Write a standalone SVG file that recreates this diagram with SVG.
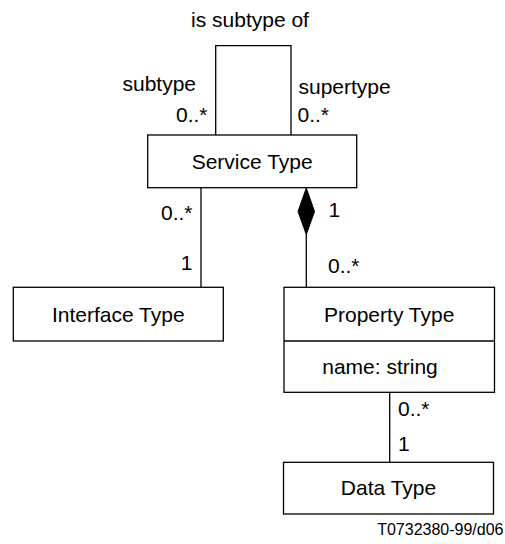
<svg xmlns="http://www.w3.org/2000/svg" width="505" height="544" viewBox="0 0 505 544">
  <style>
    .box { fill: #fff; stroke: #000; stroke-width: 1.3; }
    .ln { fill: none; stroke: #000; stroke-width: 1.3; }
    text { font-family: "Liberation Sans", Arial, sans-serif; font-size: 21px; fill: #000; }
    .c { text-anchor: middle; }
    .note { font-size: 16px; text-anchor: end; }
  </style>

  <g id="connectors">
    <!-- self-association on Service Type -->
    <polyline class="ln" points="215.7,135 215.7,45.7 291,45.7 291,135"/>
    <text class="c" x="250" y="27">is subtype of</text>
    <text x="122.5" y="91">subtype</text>
    <text x="207.5" y="122" text-anchor="end">0..*</text>
    <text x="298.5" y="94">supertype</text>
    <text x="297.5" y="122">0..*</text>

    <!-- Service Type to Interface Type -->
    <line class="ln" x1="201" y1="187.7" x2="201" y2="287.3"/>
    <text x="192.5" y="219.5" text-anchor="end">0..*</text>
    <text x="192.5" y="269.5" text-anchor="end">1</text>

    <!-- composition: Service Type owns Property Type -->
    <polygon points="306.3,188 314.5,211.5 306.3,234.5 298,211.5" fill="#000" stroke="#000" stroke-width="1"/>
    <line class="ln" x1="306.3" y1="234" x2="306.3" y2="287.3"/>
    <text x="328.5" y="217">1</text>
    <text x="328" y="273">0..*</text>

    <!-- Property Type to Data Type -->
    <line class="ln" x1="389.7" y1="392.3" x2="389.7" y2="462.3" stroke-width="2.2"/>
    <text x="398" y="416">0..*</text>
    <text x="398" y="451">1</text>
  </g>

  <g id="service-type">
    <rect class="box" x="147.7" y="135" width="209" height="52.7"/>
    <text class="c" x="252.2" y="168.5">Service Type</text>
  </g>

  <g id="interface-type">
    <rect class="box" x="13.3" y="287.3" width="210" height="53.7"/>
    <text class="c" x="118.3" y="322">Interface Type</text>
  </g>

  <g id="property-type">
    <rect class="box" x="284" y="287.3" width="210.5" height="105"/>
    <line class="ln" x1="284" y1="341" x2="494.5" y2="341"/>
    <text class="c" x="389.2" y="322">Property Type</text>
    <text class="c" x="380" y="374">name: string</text>
  </g>

  <g id="data-type">
    <rect class="box" x="283.5" y="462.3" width="210" height="51.7"/>
    <text class="c" x="388.5" y="495">Data Type</text>
  </g>

  <text class="note" x="503.5" y="535">T0732380-99/d06</text>
</svg>
